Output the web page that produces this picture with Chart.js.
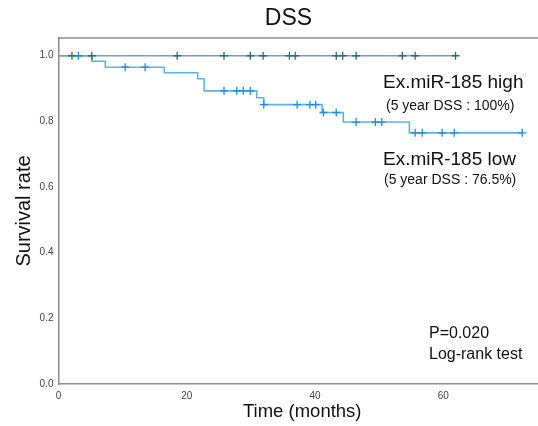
<!DOCTYPE html>
<html>
<head>
<meta charset="utf-8">
<script src="https://cdn.jsdelivr.net/npm/chart.js@4"></script>
<style>
  html, body { margin: 0; padding: 0; background: #fff; overflow: hidden; }
  #wrap { width: 560px; height: 426px; }
</style>
</head>
<body>
<div id="wrap"><canvas id="chart" width="560" height="426"></canvas></div>
<script>
// Kaplan-Meier data (time in months)
const highEnd = 61.9;
const highCensor = [2.1, 5.2, 18.5, 25.8, 29.9, 31.9, 36.0, 36.9, 43.3, 44.3, 46.4, 53.6, 55.6, 61.9];

const lowEventTimes = [5.2, 7.3, 16.5, 21.7, 22.7, 30.9, 32.0, 41.1, 44.4, 54.7];
const lowEventSurv = [0.983, 0.965, 0.948, 0.930, 0.893, 0.872, 0.851, 0.827, 0.798, 0.765];
const lowEnd = 72.3;
const lowCensor = [3.1, 10.4, 13.5, 25.8, 27.8, 28.8, 29.9, 32.0, 37.2, 39.2, 40.1, 41.3, 43.3,
    46.4, 49.4, 50.4, 55.6, 56.7, 59.8, 61.7, 72.3];

const xTicks = [0, 20, 40, 60];
const yTicks = [0, 0.2, 0.4, 0.6, 0.8, 1.0];

// survival at time t from the step function
function survAt(t) {
    let s = 1;
    lowEventTimes.forEach((et, i) => { if (t >= et) s = lowEventSurv[i]; });
    return s;
}

const highLine = [{ x: 0, y: 1 }, { x: highEnd, y: 1 }];
const lowLine = [{ x: 0, y: 1 }]
    .concat(lowEventTimes.map((t, i) => ({ x: t, y: lowEventSurv[i] })))
    .concat([{ x: lowEnd, y: lowEventSurv[lowEventSurv.length - 1] }]);

const highColor = '#62aaa3';
const highMark = '#2c6e66';
const lowColor = '#5cb2f0';
const lowMark = '#1c8ee0';
const axisColor = '#8c8c8c';

Chart.defaults.font.family = '"Liberation Sans", Arial, Helvetica, sans-serif';

// top frame line and text notes
const notes = {
    id: 'notes',
    beforeDatasetsDraw(chart) {
        const { ctx, chartArea } = chart;
        ctx.save();
        ctx.strokeStyle = axisColor;
        ctx.lineWidth = 1.5;
        ctx.beginPath();
        ctx.moveTo(chartArea.left, chartArea.top);
        ctx.lineTo(chartArea.right, chartArea.top);
        ctx.stroke();
        ctx.restore();
    },
    afterDraw(chart) {
        const ctx = chart.ctx;
        ctx.save();
        ctx.fillStyle = '#111';
        ctx.textBaseline = 'middle';
        ctx.textAlign = 'center';
        ctx.font = '23px "Liberation Sans", Arial, sans-serif';
        ctx.fillText('DSS', 288.5, 18.5);

        ctx.textAlign = 'left';
        ctx.font = '19px "Liberation Sans", Arial, sans-serif';
        ctx.fillText('Ex.miR-185 high', 383, 83);
        ctx.fillText('Ex.miR-185 low', 383, 160);
        ctx.font = '14px "Liberation Sans", Arial, sans-serif';
        ctx.fillText('(5 year DSS : 100%)', 386, 106);
        ctx.fillText('(5 year DSS : 76.5%)', 384, 180);
        ctx.font = '16px "Liberation Sans", Arial, sans-serif';
        ctx.fillText('P=0.020', 429, 334);
        ctx.fillText('Log-rank test', 429, 355);
        ctx.restore();
    }
};

new Chart(document.getElementById('chart'), {
    type: 'line',
    data: {
        datasets: [{
            label: 'high markers',
            type: 'scatter',
            data: highCensor.map(t => ({ x: t, y: 1 })),
            pointStyle: 'cross',
            pointRadius: 4,
            pointBorderWidth: 1.3,
            borderColor: highMark,
            backgroundColor: highMark,
            order: 1
        }, {
            label: 'low markers',
            type: 'scatter',
            data: lowCensor.map(t => ({ x: t, y: survAt(t) })),
            pointStyle: 'cross',
            pointRadius: 4,
            pointBorderWidth: 1.3,
            borderColor: lowMark,
            backgroundColor: lowMark,
            order: 2
        }, {
            label: 'Ex.miR-185 high',
            data: highLine,
            stepped: 'before',
            borderColor: highColor,
            borderWidth: 1.6,
            pointRadius: 0,
            fill: false,
            order: 3
        }, {
            label: 'Ex.miR-185 low',
            data: lowLine,
            stepped: 'before',
            borderColor: lowColor,
            borderWidth: 1.6,
            pointRadius: 0,
            fill: false,
            order: 4
        }]
    },
    options: {
        responsive: false,
        animation: false,
        layout: { padding: { top: 38, right: 14, left: 0, bottom: 0 } },
        plugins: {
            legend: { display: false },
            tooltip: { enabled: false },
            title: { display: false }
        },
        scales: {
            x: {
                type: 'linear',
                min: 0,
                max: 76,
                afterFit: s => { s.height = 42; },
                afterBuildTicks: s => { s.ticks = xTicks.map(v => ({ value: v })); },
                grid: { display: false, drawTicks: false },
                border: { display: true, color: axisColor, width: 1.5 },
                ticks: { color: '#444', font: { size: 10 }, padding: 6, maxRotation: 0 },
                title: {
                    display: true,
                    text: 'Time (months)',
                    color: '#111',
                    font: { size: 18.5 },
                    padding: { top: 0, bottom: 3 }
                }
            },
            y: {
                type: 'linear',
                min: 0,
                max: 1.054,
                afterFit: s => { s.width = 58.5; },
                afterBuildTicks: s => { s.ticks = yTicks.map(v => ({ value: v })); },
                grid: { display: false, drawTicks: false },
                border: { display: true, color: axisColor, width: 1.5 },
                ticks: {
                    color: '#444',
                    font: { size: 10 },
                    padding: 5,
                    callback: v => v.toFixed(1)
                },
                title: {
                    display: true,
                    text: 'Survival rate',
                    color: '#111',
                    font: { size: 20 },
                    padding: { top: 12, bottom: 0 }
                }
            }
        }
    },
    plugins: [notes]
});
</script>
</body>
</html>
